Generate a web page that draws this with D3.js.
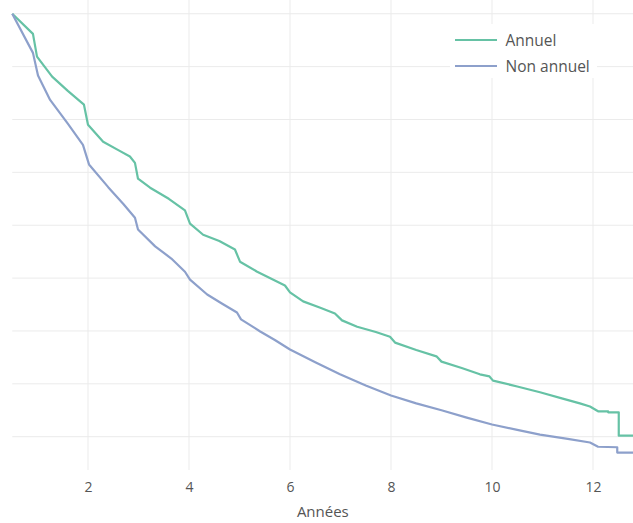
<!DOCTYPE html>
<html>
<head>
<meta charset="utf-8">
<script src="https://cdn.jsdelivr.net/npm/d3@7"></script>
<style>
  html, body { margin: 0; padding: 0; background: #fff; }
  svg { display: block; font-family: "Open Sans", "Noto Sans", sans-serif; }
</style>
</head>
<body>
<svg id="chart" width="633" height="523"></svg>
<script>
// Survival curves over the years, two groups
const seriesNames = ["Annuel", "Non annuel"];
const seriesColors = ["#66c2a5", "#8da0cb"];

const annuelYears = [0.5, 0.91, 0.99, 1.29, 1.6, 1.92, 2.0, 2.3, 2.6, 2.83, 2.93, 2.99, 3.23, 3.6, 3.92, 4.02, 4.28, 4.6, 4.91, 5.01, 5.35, 5.6, 5.9, 6.0, 6.26, 6.6, 6.89, 7.03, 7.33, 7.7, 7.98, 8.08, 8.5, 8.9, 9.0, 9.4, 9.76, 9.95, 10.02, 10.5, 10.95, 11.4, 11.74, 11.94, 12.1, 12.3, 12.3, 12.51, 12.51, 12.8];
const annuelValues = [1.0, 0.962, 0.919, 0.881, 0.854, 0.828, 0.790, 0.758, 0.742, 0.730, 0.718, 0.688, 0.671, 0.650, 0.628, 0.603, 0.582, 0.570, 0.554, 0.531, 0.512, 0.500, 0.486, 0.473, 0.456, 0.444, 0.433, 0.420, 0.408, 0.398, 0.389, 0.378, 0.364, 0.352, 0.342, 0.330, 0.318, 0.314, 0.306, 0.295, 0.284, 0.272, 0.263, 0.257, 0.248, 0.248, 0.246, 0.246, 0.202, 0.202];

const nonAnnuelYears = [0.5, 0.91, 1.01, 1.25, 1.6, 1.9, 2.02, 2.4, 2.7, 2.93, 2.99, 3.33, 3.65, 3.92, 4.02, 4.36, 4.65, 4.95, 5.03, 5.41, 5.7, 6.0, 6.5, 6.99, 7.5, 8.0, 8.5, 9.0, 9.5, 10.0, 10.5, 10.95, 11.5, 11.94, 12.1, 12.48, 12.48, 12.8];
const nonAnnuelValues = [1.0, 0.926, 0.883, 0.837, 0.792, 0.752, 0.715, 0.672, 0.640, 0.614, 0.592, 0.560, 0.537, 0.512, 0.497, 0.469, 0.452, 0.435, 0.422, 0.399, 0.383, 0.365, 0.341, 0.318, 0.297, 0.278, 0.263, 0.250, 0.236, 0.223, 0.213, 0.204, 0.196, 0.189, 0.181, 0.180, 0.170, 0.170];

const xTicks = [2, 4, 6, 8, 10, 12];
const yGridValues = [0.2, 0.3, 0.4, 0.5, 0.6, 0.7, 0.8, 0.9, 1.0];
const xTitle = "Années";

const svg = d3.select("#chart");
const W = 633, H = 523;
const plotLeft = 12.25, plotRight = 633.4, plotTop = 0, plotBottom = 470;

const x = d3.scaleLinear().domain([0.5, 12.8]).range([plotLeft, plotRight]);
const y = d3.scaleLinear().domain([0.137, 1.026]).range([plotBottom, plotTop]);

// Grid
const grid = svg.append("g");
grid.selectAll("line.vg").data(xTicks).join("line")
  .attr("x1", d => x(d)).attr("x2", d => x(d))
  .attr("y1", plotTop).attr("y2", plotBottom)
  .attr("stroke", "#ebebeb").attr("stroke-width", 1);
grid.selectAll("line.hg").data(yGridValues).join("line")
  .attr("x1", plotLeft).attr("x2", W)
  .attr("y1", d => y(d)).attr("y2", d => y(d))
  .attr("stroke", "#ebebeb").attr("stroke-width", 1);

// X axis labels
const xAxis = d3.axisBottom(x).tickValues(xTicks).tickSize(0).tickPadding(0);
const gx = svg.append("g").attr("transform", `translate(0, ${plotBottom + 12})`).call(xAxis);
gx.select(".domain").remove();
gx.selectAll("text").attr("fill", "#555").attr("font-size", 14).attr("font-family", "\"Open Sans\", sans-serif");

svg.append("text")
  .attr("x", x(6.65)).attr("y", 517)
  .attr("text-anchor", "middle")
  .attr("fill", "#555").attr("font-size", 15)
  .text(xTitle);

// Curves
const series = [
  { name: seriesNames[0], color: seriesColors[0], xs: annuelYears, ys: annuelValues },
  { name: seriesNames[1], color: seriesColors[1], xs: nonAnnuelYears, ys: nonAnnuelValues }
];
const line = d3.line().x(d => x(d[0])).y(d => y(d[1]));
svg.append("g").selectAll("path").data(series).join("path")
  .attr("d", s => line(s.xs.map((v, i) => [v, s.ys[i]])))
  .attr("fill", "none")
  .attr("stroke", s => s.color)
  .attr("stroke-width", 2.2)
  .attr("stroke-linejoin", "round");

// Legend
const legend = svg.append("g").attr("transform", "translate(450, 24)");
legend.append("rect").attr("width", 147).attr("height", 54).attr("fill", "#fff");
series.forEach((s, i) => {
  const g = legend.append("g").attr("transform", `translate(0, ${16 + i * 26})`);
  g.append("line").attr("x1", 5).attr("x2", 47).attr("y1", 0).attr("y2", 0)
    .attr("stroke", s.color).attr("stroke-width", 2.2);
  g.append("text").attr("x", 55.5).attr("y", 5.5)
    .attr("fill", "#555").attr("font-size", 15.5)
    .text(s.name);
});
</script>
</body>
</html>
